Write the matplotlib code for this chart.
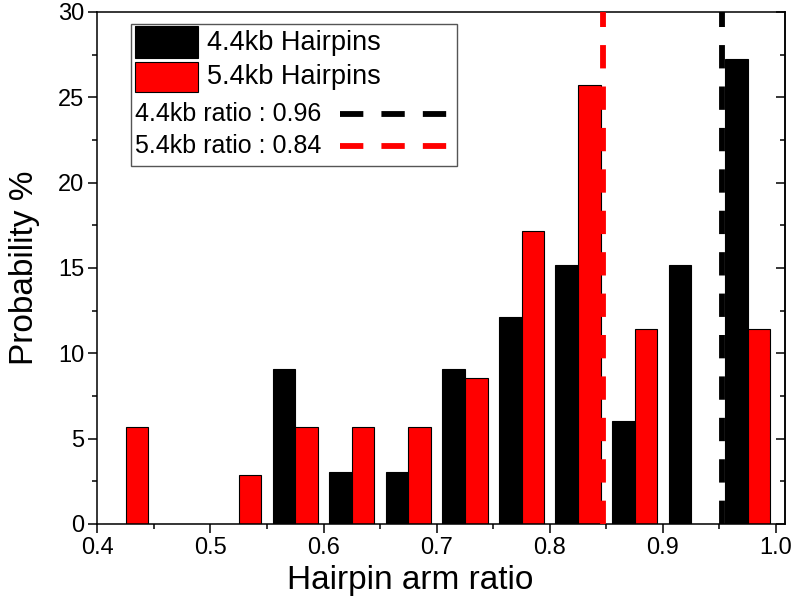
import numpy as np
import matplotlib
matplotlib.use("Agg")
import matplotlib.pyplot as plt
from matplotlib.patches import Rectangle
from matplotlib.lines import Line2D
from matplotlib.ticker import MultipleLocator, FormatStrFormatter

plt.rcParams['font.family'] = ['Liberation Sans', 'DejaVu Sans']

# ── Data ────────────────────────────────────────────────────────
bin_left = [0.40, 0.45, 0.50, 0.55, 0.60, 0.65, 0.70, 0.75, 0.80, 0.85, 0.90, 0.95]
prob_44 = [0, 0, 0, 9.09, 3.03, 3.03, 9.09, 12.12, 15.15, 6.06, 15.15, 27.27]
prob_54 = [5.71, 0, 2.86, 5.71, 5.71, 5.71, 8.57, 17.14, 25.71, 11.43, 0, 11.43]
ratio_44 = 0.952   # drawn position of the mean line
ratio_54 = 0.847
labels = ['4.4kb Hairpins', '5.4kb Hairpins',
          '4.4kb ratio : 0.96', '5.4kb ratio : 0.84']

COL_44 = '#000000'
COL_54 = '#FF0000'

fig = plt.figure(figsize=(7.92, 6.0), dpi=100)
ax = fig.add_axes([0.1228, 0.1267, 0.8685, 0.8533])

x = np.array(bin_left)
w = 0.02
ax.bar(x + 0.015, prob_44, width=w, color=COL_44, edgecolor='black', lw=0.8, zorder=2)
ax.bar(x + 0.035, prob_54, width=w, color=COL_54, edgecolor='black', lw=0.8, zorder=2)

dash = (0, (4.0, 3.1))
ax.axvline(ratio_54, color=COL_54, lw=4.2, ls=dash, zorder=3)
ax.axvline(ratio_44, color=COL_44, lw=4.2, ls=dash, zorder=3)

ax.set_xlim(0.4, 1.008)
ax.set_ylim(0, 30)
ax.xaxis.set_major_locator(MultipleLocator(0.1))
ax.xaxis.set_minor_locator(MultipleLocator(0.05))
ax.xaxis.set_major_formatter(FormatStrFormatter('%.1f'))
ax.yaxis.set_major_locator(MultipleLocator(5))
ax.yaxis.set_minor_locator(MultipleLocator(2.5))
ax.tick_params(which='major', direction='out', length=6.5, width=1.1, labelsize=17, pad=3)
ax.tick_params(which='minor', direction='out', length=3.5, width=1.1)
for s in ax.spines.values():
    s.set_linewidth(1.1)

# right-hand ticks pointing inward
sec = ax.secondary_yaxis('right')
sec.yaxis.set_major_locator(MultipleLocator(5))
sec.yaxis.set_minor_locator(MultipleLocator(2.5))
sec.tick_params(which='major', direction='in', length=6.5, width=1.1, labelright=False)
sec.tick_params(which='minor', direction='in', length=3.5, width=1.1)
sec.spines['right'].set_linewidth(1.1)

ax.set_xlabel('Hairpin arm ratio', fontsize=24, labelpad=4)
ax.xaxis.label.set_x(0.455)
ax.set_ylabel('Probability %', fontsize=24, labelpad=13)

# ── Legend (drawn by hand, Origin style) ───────────────────────
T = ax.transAxes
ax.add_patch(Rectangle((0.0486, 0.699), 0.4744, 0.2776, transform=T,
                       facecolor='white', edgecolor='#555555', lw=1.0, zorder=5))
ax.add_patch(Rectangle((0.0549, 0.9102), 0.0911, 0.0625, transform=T,
                       facecolor=COL_44, edgecolor='black', lw=0.8, zorder=6))
ax.add_patch(Rectangle((0.0549, 0.8437), 0.0911, 0.0583, transform=T,
                       facecolor=COL_54, edgecolor='black', lw=0.8, zorder=6))
ax.text(0.159, 0.9395, labels[0], transform=T, fontsize=19.5, va='center', zorder=6)
ax.text(0.159, 0.873, labels[1], transform=T, fontsize=19.5, va='center', zorder=6)
ax.text(0.0549, 0.8002, labels[2], transform=T, fontsize=18, va='center', zorder=6)
ax.text(0.0549, 0.7389, labels[3], transform=T, fontsize=18, va='center', zorder=6)
ax.add_line(Line2D([0.3528, 0.5084], [0.8002, 0.8002], transform=T, color=COL_44,
                   lw=4.2, ls=dash, zorder=6))
ax.add_line(Line2D([0.3528, 0.5084], [0.7389, 0.7389], transform=T, color=COL_54,
                   lw=4.2, ls=dash, zorder=6))

fig.savefig('out.png', dpi=100, facecolor='white')
